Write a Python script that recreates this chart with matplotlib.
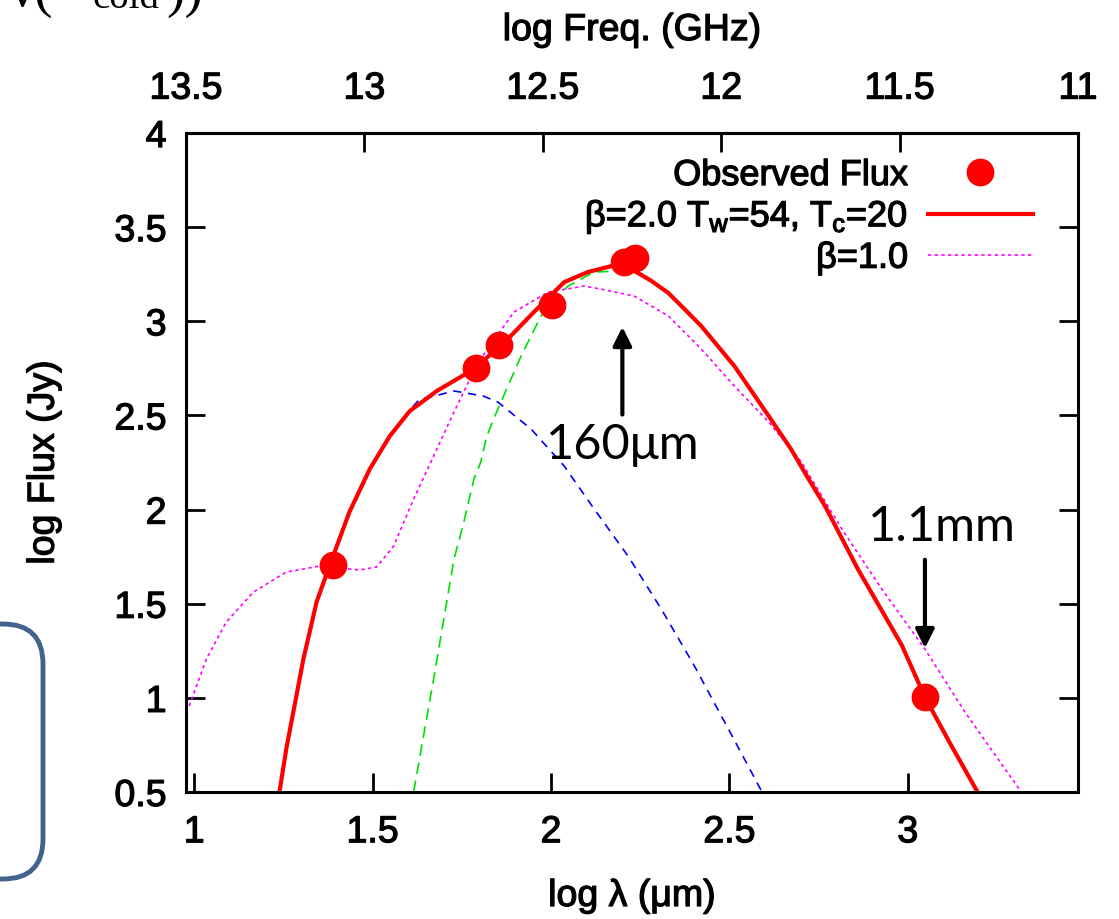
import numpy as np
import matplotlib.pyplot as plt
import matplotlib.patheffects as pe
from matplotlib.patches import FancyBboxPatch
from matplotlib.transforms import IdentityTransform

plt.rcParams['font.family'] = ['Liberation Sans', 'DejaVu Sans']
plt.rcParams['mathtext.default'] = 'regular'

# observed flux (log lambda [um], log flux [Jy])
obs_x = [1.388, 1.789, 1.854, 2.003, 2.205, 2.236, 3.048]
obs_y = [1.705, 2.752, 2.874, 3.086, 3.315, 3.336, 1.004]

# total model, beta=2.0, Tw=54, Tc=20
tot_x = [1.239, 1.258, 1.306, 1.343, 1.379, 1.435, 1.492, 1.548, 1.604, 1.68,
         1.784, 1.879, 1.952, 2.037, 2.104, 2.169, 2.233, 2.281, 2.329, 2.374,
         2.421, 2.514, 2.61, 2.673, 2.722, 2.768, 2.86, 2.983, 3.048, 3.115, 3.194]
tot_y = [0.5, 0.728, 1.206, 1.509, 1.70, 1.987, 2.215, 2.39, 2.523, 2.63,
         2.746, 2.906, 3.049, 3.208, 3.262, 3.293, 3.268, 3.215, 3.15, 3.065,
         2.975, 2.762, 2.497, 2.32, 2.162, 2.019, 1.684, 1.28, 1.004, 0.77, 0.505]

# beta=1.0 model
b1_x = [0.986, 1.034, 1.09, 1.166, 1.258, 1.351, 1.463, 1.511, 1.559, 1.615,
        1.671, 1.728, 1.795, 1.896, 1.992, 2.093, 2.14, 2.233, 2.329, 2.421,
        2.514, 2.61, 2.702, 2.815, 2.927, 3.048, 3.16, 3.312]
b1_y = [0.957, 1.206, 1.403, 1.562, 1.668, 1.70, 1.679, 1.695, 1.806, 2.056,
        2.284, 2.518, 2.78, 3.049, 3.155, 3.187, 3.171, 3.134, 3.028, 2.853,
        2.656, 2.465, 2.252, 1.897, 1.578, 1.259, 0.925, 0.516]

# warm component
warm_x = [1.56, 1.60, 1.632, 1.663, 1.728, 1.81, 1.851, 1.944, 2.037, 2.121,
          2.216, 2.309, 2.402, 2.497, 2.59]
warm_y = [2.42, 2.52, 2.587, 2.598, 2.63, 2.603, 2.571, 2.428, 2.231, 2.003,
          1.753, 1.472, 1.169, 0.835, 0.505]

# cold component
cold_x = [1.615, 1.671, 1.728, 1.753, 1.784, 1.803, 1.82, 1.851, 1.916, 1.972,
          2.048, 2.121, 2.197, 2.26]
cold_y = [0.5, 1.1, 1.737, 1.913, 2.162, 2.252, 2.39, 2.534, 2.815, 3.028,
          3.187, 3.262, 3.267, 3.25]

xticks = [1, 1.5, 2, 2.5, 3]
yticks = [0.5, 1, 1.5, 2, 2.5, 3, 3.5, 4]
fticks = [13.5, 13, 12.5, 12, 11.5, 11]

LOGC = 14.477  # log10(c) in um/s
FS = 27
heavy = [pe.Stroke(linewidth=0.9, foreground='black'), pe.Normal()]

fig = plt.figure(figsize=(11.19, 9.2), dpi=100)
ax = fig.add_axes([186/1119, 1-793/920, (1078-186)/1119, (793-134)/920])

ax.plot(warm_x, warm_y, color='#0000ff', lw=1.2, ls=(0, (5, 4)))
ax.plot(cold_x, cold_y, color='#00e000', lw=1.2, ls=(0, (7, 4)))
l_b1, = ax.plot(b1_x, b1_y, color='#ff00ff', lw=1.2, ls=(0, (2, 2)), label='β=1.0')
l_tot, = ax.plot(tot_x, tot_y, color='#ff0000', lw=3, label='β=2.0 T$_w$=54, T$_c$=20')
l_obs, = ax.plot(obs_x, obs_y, 'o', color='#ff0000', ms=20, mec='none', label='Observed Flux')

ax.set_xlim(LOGC - 13.5, LOGC - 11)
ax.set_ylim(0.5, 4)
ax.set_xticks(xticks)
ax.set_xticklabels(['1', '1.5', '2', '2.5', '3'])
ax.set_yticks(yticks)
ax.set_yticklabels(['0.5', '1', '1.5', '2', '2.5', '3', '3.5', '4'])
ax.tick_params(direction='in', length=14, width=2, labelsize=FS, right=True)
ax.tick_params(axis='x', pad=16)
ax.tick_params(axis='y', pad=14)
for s in ax.spines.values():
    s.set_linewidth(2.2)

top = ax.secondary_xaxis('top', functions=(lambda x: LOGC - x, lambda v: LOGC - v))
top.set_xticks(fticks)
top.set_xticklabels(['13.5', '13', '12.5', '12', '11.5', '11'])
top.tick_params(direction='in', length=14, width=2, labelsize=FS, pad=19)
top.spines['top'].set_linewidth(2.2)
top_lab = top.set_xlabel('log Freq. (GHz)', fontsize=FS, labelpad=22)

xl = ax.set_xlabel('log λ (μm)', fontsize=FS, labelpad=20)
yl = ax.set_ylabel('log Flux (Jy)', fontsize=FS, labelpad=38)

leg = ax.legend(handles=[l_obs, l_tot, l_b1], loc='upper right', bbox_to_anchor=(0.949, 0.962),
                frameon=False, markerfirst=False, numpoints=1, fontsize=26,
                handlelength=2.9, handletextpad=0.55, labelspacing=0.12, borderpad=0, borderaxespad=0)

for t in (ax.get_xticklabels() + ax.get_yticklabels() + top.get_xticklabels()
          + leg.get_texts() + [top_lab, xl, yl]):
    t.set_path_effects(heavy)

# wavelength markers
ax.annotate('', xy=(2.2, 2.985), xytext=(2.2, 2.49),
            arrowprops=dict(arrowstyle='-|>', lw=3, color='black', mutation_scale=28))
ax.text(2.2, 2.348, '160μm', fontsize=35, family='Lato', ha='center', va='center')
ax.annotate('', xy=(3.048, 1.249), xytext=(3.048, 1.748),
            arrowprops=dict(arrowstyle='-|>', lw=3, color='black', mutation_scale=28))
ax.text(3.096, 1.913, '1.1mm', fontsize=35, family='Lato', ha='center', va='center')

# cropped slide leftovers
fig.text(10/1119, 1 - 6/920, 'ν(', fontsize=40, family='Liberation Serif', va='baseline')
fig.text(92/1119, 1 - 8/920, 'cold', fontsize=28, family='Liberation Serif', va='baseline')
fig.text(166/1119, 1 - 6/920, '))', fontsize=40, family='Liberation Serif', va='baseline')
box = FancyBboxPatch((-120, 920 - 880), 163, 255, boxstyle='round,pad=0,rounding_size=40',
                     transform=IdentityTransform(), fill=False, ec='#41638d', lw=3.5)
fig.add_artist(box)

fig.savefig('out.png', dpi=100)
